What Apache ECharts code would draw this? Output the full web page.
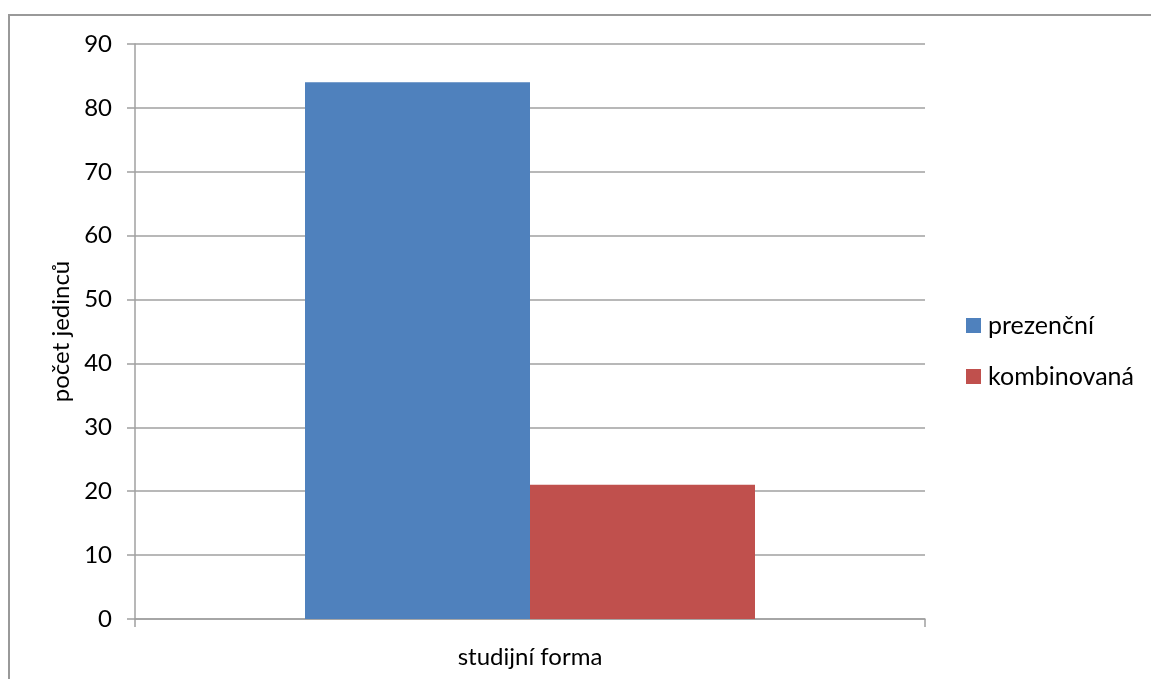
<!DOCTYPE html>
<html>
<head>
<meta charset="utf-8">
<script src="https://cdn.jsdelivr.net/npm/echarts@6/dist/echarts.min.js"></script>
<style>
  html, body { margin: 0; padding: 0; background: #fff; }
  #chart { width: 1151px; height: 679px; }
</style>
</head>
<body>
<div id="chart"></div>
<script>
// Categories, series and tick labels
const categories = ['studijní forma'];
const seriesNames = ['prezenční', 'kombinovaná'];
const prezencni = [84];
const kombinovana = [21];
const yTicks = [0, 10, 20, 30, 40, 50, 60, 70, 80, 90];

const FONT = 'Lato, "Open Sans", sans-serif';
const GRID_COLOR = '#a0a0a0';

const chart = echarts.init(document.getElementById('chart'), null, { renderer: 'canvas' });

chart.setOption({
  animation: false,
  backgroundColor: '#fff',
  graphic: [{
    type: 'rect',
    shape: { x: 9, y: 15, width: 1200, height: 700 },
    style: { fill: 'none', stroke: '#999', lineWidth: 2 },
    silent: true
  }],
  grid: { left: 135, right: 226, top: 44, bottom: 60, outerBoundsMode: 'none', containLabel: false },
  legend: {
    orient: 'vertical',
    left: 966,
    top: 313,
    padding: 0,
    itemWidth: 15,
    itemHeight: 15,
    itemGap: 26,
    icon: 'rect',
    textStyle: { fontFamily: FONT, fontSize: 25, lineHeight: 24, color: '#000', padding: [0, 0, 0, 2] },
    data: seriesNames
  },
  xAxis: {
    type: 'category',
    data: categories,
    axisLine: { lineStyle: { color: GRID_COLOR, width: 1.5 } },
    axisTick: { show: true, length: 8, lineStyle: { color: GRID_COLOR, width: 1.5 } },
    axisLabel: { show: false },
    name: categories[0],
    nameLocation: 'middle',
    nameGap: 26,
    nameTextStyle: { fontFamily: FONT, fontSize: 24, color: '#000', verticalAlign: 'top' }
  },
  yAxis: {
    type: 'value',
    min: yTicks[0],
    max: yTicks[yTicks.length - 1],
    interval: 10,
    axisLine: { show: true, lineStyle: { color: GRID_COLOR, width: 1.5 } },
    axisTick: { show: true, length: 8, lineStyle: { color: GRID_COLOR, width: 1.5 } },
    axisLabel: { fontFamily: FONT, fontSize: 24, color: '#000', margin: 23 },
    splitLine: { lineStyle: { color: GRID_COLOR, width: 1.5 } },
    name: 'počet jedinců',
    nameLocation: 'middle',
    nameGap: 60,
    nameRotate: 90,
    nameTextStyle: { fontFamily: FONT, fontSize: 24, color: '#000' }
  },
  series: [
    {
      name: seriesNames[0],
      type: 'bar',
      data: prezencni,
      barWidth: 225,
      barGap: '0%',
      itemStyle: { color: '#4f81bd' }
    },
    {
      name: seriesNames[1],
      type: 'bar',
      data: kombinovana,
      barWidth: 225,
      barGap: '0%',
      itemStyle: { color: '#c0504d' }
    }
  ]
});
</script>
</body>
</html>
